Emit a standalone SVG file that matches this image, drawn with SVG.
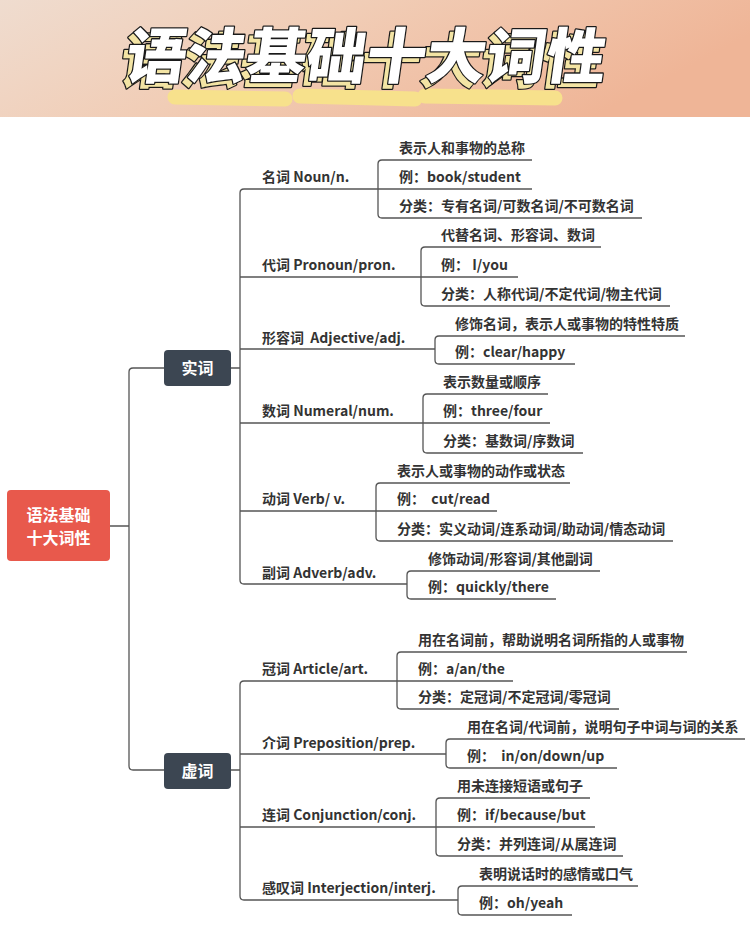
<svg xmlns="http://www.w3.org/2000/svg" width="750" height="928" viewBox="0 0 750 928">
<defs>
<linearGradient id="bg" x1="0" y1="0" x2="1" y2="0.3">
<stop offset="0" stop-color="#efdccf"/>
<stop offset="0.45" stop-color="#f1cdb6"/>
<stop offset="1" stop-color="#efb597"/>
</linearGradient>
<style>
.ln{fill:none;stroke:#555;stroke-width:1.3}
.t{font-family:"Noto Sans CJK SC","Noto Sans",sans-serif;font-size:14px;font-weight:700;fill:#333}
.bt{font-family:"Noto Sans CJK SC","Noto Sans",sans-serif;font-size:16px;font-weight:700;fill:#fff;text-anchor:middle}
.title{font-family:"Noto Sans CJK SC",sans-serif;font-size:60px;font-weight:900;text-anchor:middle;stroke:#1a1a1a;stroke-width:2.5;stroke-linejoin:round;paint-order:stroke}
</style>
</defs>
<rect width="750" height="928" fill="#fff"/>
<g id="header">
<rect x="0" y="0" width="750" height="117" fill="url(#bg)"/>
<g stroke="#f7e18c" stroke-linecap="round" fill="none">
<path d="M175,97 L285,99" stroke-width="15"/>
<path d="M300,96 L415,99" stroke-width="15"/>
<path d="M425,96 L555,98" stroke-width="15"/>
</g>
<g transform="translate(365,55) skewX(-8) translate(-365,-55)">
<text class="title" x="362" y="83" fill="#f3e4a4">语法基础十大词性</text>
<text class="title" x="367" y="78" fill="#ffffff">语法基础十大词性</text>
</g>
</g>
<g id="connectors">
<path class="ln" d="M110,526 H129 M133,368 Q129,368 129,372 L129,766 Q129,770 133,770 M133,368 H165 M133,770 H164"/>
<path class="ln" d="M231,368 H240 M244,189 Q240,189 240,193 L240,580 Q240,584 244,584 M244,189 H378 M240,277 H518 M240,349 H435 M240,423 H550 M240,511 H497 M244,584 H407"/>
<path class="ln" d="M382,160 Q378,160 378,164 L378,214 Q378,218 382,218 M382,160 H532 M378,189 H532 M382,218 H642"/>
<path class="ln" d="M425,247 Q421,247 421,251 L421,302 Q421,306 425,306 M425,247 H601 M425,306 H670"/>
<path class="ln" d="M439,336 Q435,336 435,340 L435,360 Q435,364 439,364 M439,336 H685 M439,364 H575"/>
<path class="ln" d="M427,394 Q423,394 423,398 L423,449 Q423,453 427,453 M427,394 H548 M427,453 H583"/>
<path class="ln" d="M380,483 Q376,483 376,487 L376,537 Q376,541 380,541 M380,483 H570 M380,541 H673"/>
<path class="ln" d="M411,571 Q407,571 407,575 L407,595 Q407,599 411,599 M411,571 H600 M411,599 H556"/>
<path class="ln" d="M231,770 H240 M244,681 Q240,681 240,685 L240,896 Q240,900 244,900 M244,681 H513 M240,754 H446 M240,827 H595 M244,900 H458"/>
<path class="ln" d="M401,652 Q397,652 397,656 L397,705 Q397,709 401,709 M401,652 H687 M401,709 H619"/>
<path class="ln" d="M450,739 Q446,739 446,743 L446,764 Q446,768 450,768 M450,739 H745 M450,768 H617"/>
<path class="ln" d="M440,798 Q436,798 436,802 L436,852 Q436,856 440,856 M440,798 H590 M440,856 H623"/>
<path class="ln" d="M462,886 Q458,886 458,890 L458,911 Q458,915 462,915 M462,886 H638 M462,915 H572"/>
</g>
<g id="root">
<rect x="7" y="490" width="103" height="71" rx="4" fill="#e8594c"/>
<text class="bt" x="58.5" y="521">语法基础</text>
<text class="bt" x="58.5" y="544">十大词性</text>
</g>
<g id="shici">
<rect x="164" y="350" width="67" height="36" rx="4" fill="#3c4652"/>
<text class="bt" x="197.5" y="374">实词</text>
</g>
<g id="xuci">
<rect x="164" y="753" width="67" height="36" rx="4" fill="#3c4652"/>
<text class="bt" x="197.5" y="777">虚词</text>
</g>
<g id="noun">
<text class="t" x="262" y="182">名词 Noun/n.</text>
<text class="t" x="399" y="153">表示人和事物的总称</text>
<text class="t" x="399" y="182">例：book/student</text>
<text class="t" x="399" y="211">分类：专有名词/可数名词/不可数名词</text>
</g>
<g id="pronoun">
<text class="t" x="262" y="270">代词 Pronoun/pron.</text>
<text class="t" x="441" y="240">代替名词、形容词、数词</text>
<text class="t" x="441" y="270">例： I/you</text>
<text class="t" x="441" y="299">分类：人称代词/不定代词/物主代词</text>
</g>
<g id="adjective">
<text class="t" x="262" y="343" xml:space="preserve">形容词  Adjective/adj.</text>
<text class="t" x="455" y="329">修饰名词，表示人或事物的特性特质</text>
<text class="t" x="455" y="357">例：clear/happy</text>
</g>
<g id="numeral">
<text class="t" x="262" y="416">数词 Numeral/num.</text>
<text class="t" x="443" y="387">表示数量或顺序</text>
<text class="t" x="443" y="416">例：three/four</text>
<text class="t" x="443" y="446">分类：基数词/序数词</text>
</g>
<g id="verb">
<text class="t" x="262" y="504">动词 Verb/ v.</text>
<text class="t" x="397" y="476">表示人或事物的动作或状态</text>
<text class="t" x="397" y="504" xml:space="preserve">例：  cut/read</text>
<text class="t" x="397" y="534">分类：实义动词/连系动词/助动词/情态动词</text>
</g>
<g id="adverb">
<text class="t" x="262" y="578">副词 Adverb/adv.</text>
<text class="t" x="428" y="564">修饰动词/形容词/其他副词</text>
<text class="t" x="428" y="592">例：quickly/there</text>
</g>
<g id="article">
<text class="t" x="262" y="674">冠词 Article/art.</text>
<text class="t" x="418" y="645">用在名词前，帮助说明名词所指的人或事物</text>
<text class="t" x="418" y="674">例：a/an/the</text>
<text class="t" x="418" y="702">分类：定冠词/不定冠词/零冠词</text>
</g>
<g id="preposition">
<text class="t" x="262" y="748">介词 Preposition/prep.</text>
<text class="t" x="467" y="732">用在名词/代词前，说明句子中词与词的关系</text>
<text class="t" x="467" y="761" xml:space="preserve">例：  in/on/down/up</text>
</g>
<g id="conjunction">
<text class="t" x="262" y="820">连词 Conjunction/conj.</text>
<text class="t" x="457" y="791">用未连接短语或句子</text>
<text class="t" x="457" y="820">例：if/because/but</text>
<text class="t" x="457" y="849">分类：并列连词/从属连词</text>
</g>
<g id="interjection">
<text class="t" x="262" y="893">感叹词 Interjection/interj.</text>
<text class="t" x="479" y="879">表明说话时的感情或口气</text>
<text class="t" x="479" y="908">例：oh/yeah</text>
</g>
</svg>
